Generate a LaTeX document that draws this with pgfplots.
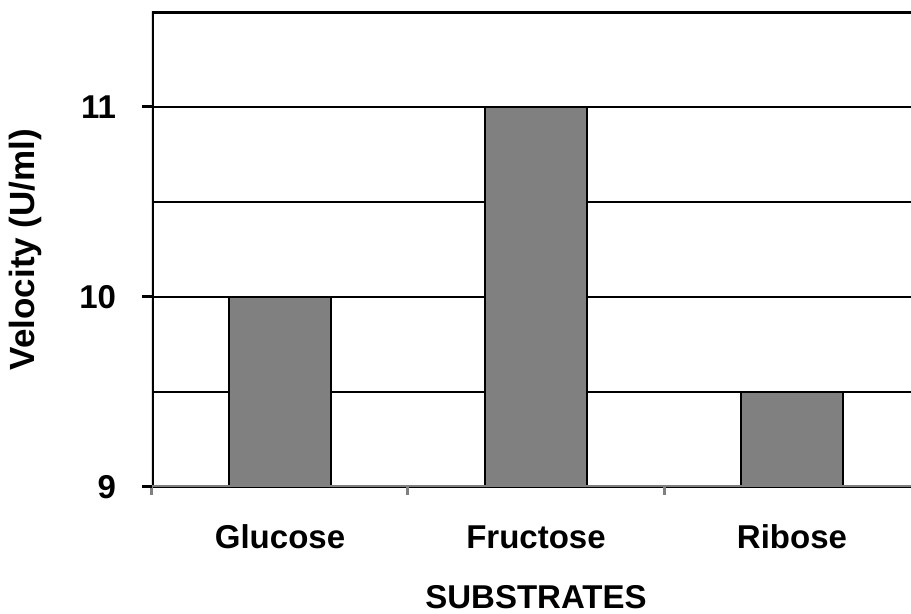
\documentclass[border=0pt]{standalone}
\usepackage{fontspec}
\setmainfont{Liberation Sans}
\usepackage{pgfplots}
\pgfplotsset{compat=1.18}
\definecolor{bargray}{RGB}{128,128,128}

% 1 px of the reference = 0.5pt
\begin{document}
\begin{tikzpicture}
\begin{axis}[
    at={(0,0)}, anchor=south west,
    scale only axis,
    width=384pt, height=237.5pt,
    font=\fontsize{16}{19}\selectfont\bfseries,
    /pgf/number format/assume math mode=true,
    ybar, bar width=0.4,
    xmin=-0.5, xmax=2.5,
    ymin=9, ymax=11.5,
    xtick={0,1,2},
    xticklabels={Glucose, Fructose, Ribose},
    minor xtick={-0.5,0.5,1.5,2.5},
    ytick={9,10,11},
    minor ytick={9.5,10.5},
    xtick pos=lower, ytick pos=left,
    ymajorgrids, yminorgrids,
    major grid style={black, line width=1pt},
    minor grid style={black, line width=1pt},
    axis line style={draw=none},
    xtick style={draw=none},
    minor x tick style={draw=bargray, line width=1.5pt, /pgfplots/minor tick length=4pt},
    ytick style={black, line width=1.5pt, /pgfplots/major tick length=5pt},
    minor y tick style={draw=none},
    tick align=outside,
    tick label style={font=\fontsize{16.5}{19}\selectfont\bfseries},
    xticklabel style={anchor=base, yshift=-26.5pt},
    yticklabel style={anchor=east, inner sep=0pt, xshift=-13.5pt},
    xlabel={SUBSTRATES},
    ylabel={Velocity (U/ml)},
    xlabel style={at={(axis description cs:0.5,0)}, anchor=base, yshift=-61pt,
        font=\fontsize{16.5}{19}\selectfont\bfseries},
    ylabel style={at={(axis description cs:-0.1654,0.5)}, anchor=center,
        font=\fontsize{17.5}{20}\selectfont\bfseries},
]
\addplot[fill=bargray, draw=black, line width=1pt]
    coordinates {(0,10) (1,11) (2,9.5)};
\draw[black, line width=1.6pt] (rel axis cs:0,0) -- (rel axis cs:0,1) -- (rel axis cs:1,1);
\draw[bargray, line width=1.5pt] (rel axis cs:0,0) -- (rel axis cs:1,0);
\end{axis}
\pgfresetboundingbox
\useasboundingbox (-76pt,-63.5pt) rectangle (379.5pt,243.5pt);
\end{tikzpicture}
\end{document}
